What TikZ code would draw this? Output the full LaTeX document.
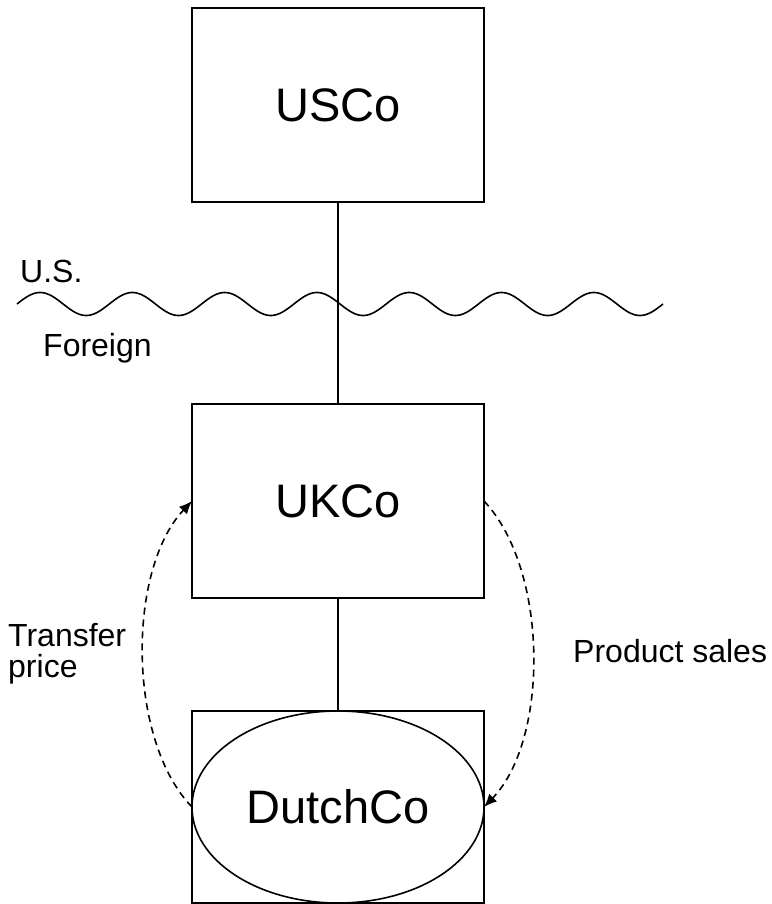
\documentclass[tikz,border=0pt]{standalone}
\usepackage{fontspec}
\setmainfont{Liberation Sans}
\usetikzlibrary{shapes.geometric,arrows.meta}
\begin{document}
\begin{tikzpicture}[x=1pt,y=-1pt,
  company/.style={draw, line width=1.6pt, inner sep=0pt, outer sep=0pt,
    minimum width=292pt, font=\fontsize{47}{56}\selectfont},
  label/.style={inner sep=0pt, font=\fontsize{32}{31}\selectfont},
  flow/.style={dashed, dash pattern=on 7pt off 5pt, line width=1.6pt,
    -{Latex[length=13pt,width=11pt]}},
  link/.style={line width=1.6pt}]
\useasboundingbox (0,0) rectangle (771,904);
% companies
\node[company, rectangle, minimum height=194pt] (usco) at (338,105) {USCo};
\node[company, rectangle, minimum height=194pt] (ukco) at (338,501) {UKCo};
\node[company, rectangle, minimum height=192pt] (dutchbox) at (338,807) {};
\node[company, ellipse, minimum height=192pt] (dutch) at (338,807) {DutchCo};
% ownership links
\draw[link] (usco.south) -- (ukco.north);
\draw[link] (ukco.south) -- (dutchbox.north);
% border line
\draw[line width=1.6pt] plot[domain=17:663, samples=300, smooth]
  (\x, {304 - 11.5*sin(3.90075*(\x-17))});
\node[label, anchor=base west] (us) at (20,282) {U.S.};
\node[label, anchor=base west] (foreign) at (43,356) {Foreign};
% flows
\draw[flow] (dutch.west) .. controls (127,740) and (127,570) .. (ukco.west);
\draw[flow] (ukco.east) .. controls (549,570) and (549,740) .. (dutch.east);
\node[label, anchor=base west, align=left] (tp) at (8,677) {Transfer\\price};
\node[label, anchor=base west] (ps) at (573,662) {Product sales};
\end{tikzpicture}
\end{document}
